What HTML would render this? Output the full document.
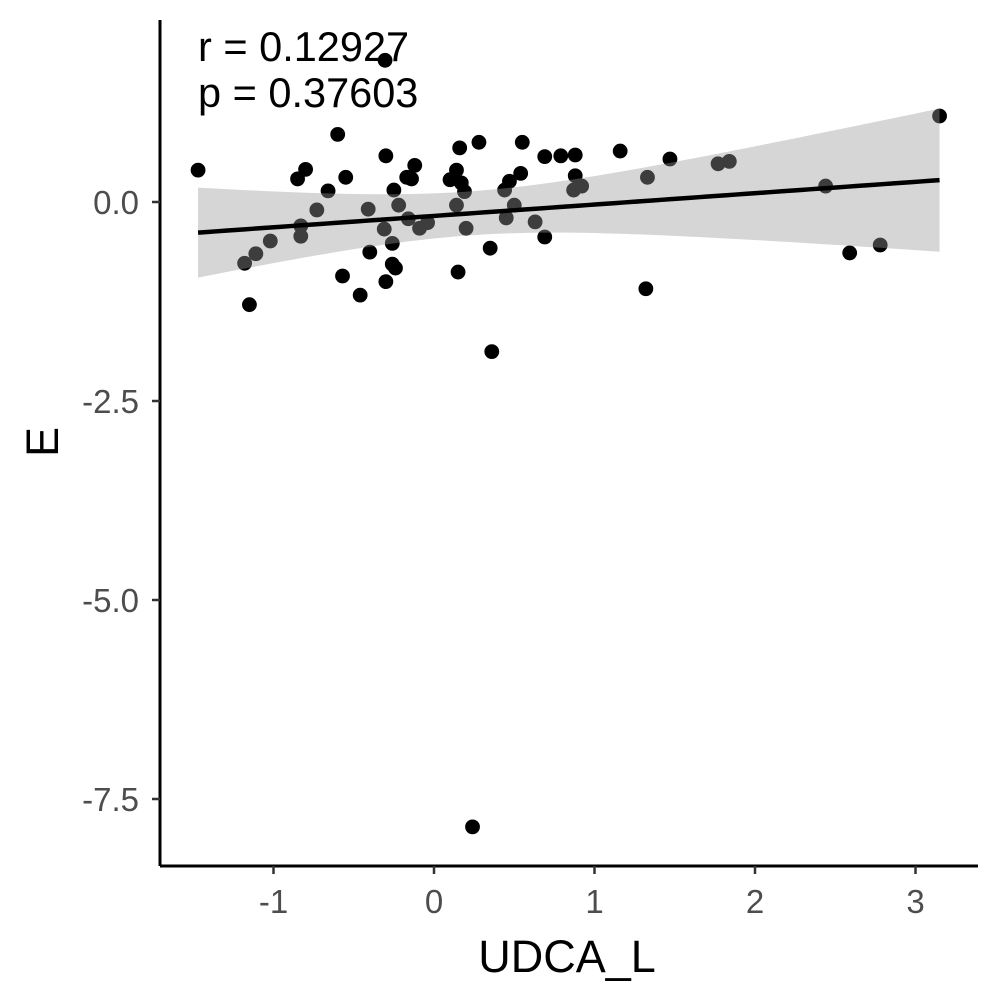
<!DOCTYPE html>
<html><head><meta charset="utf-8"><style>
html,body{margin:0;padding:0;background:#fff;}
svg{display:block;font-family:"Liberation Sans",Arial,sans-serif;}
</style></head><body>
<svg id="chart" width="1000" height="1000" viewBox="0 0 1000 1000">
<g id="points"></g>
<g id="band"></g>
<g id="fit"></g>
<line x1="160" y1="20" x2="160" y2="866" stroke="#000" stroke-width="3"/>
<line x1="160" y1="866" x2="978" y2="866" stroke="#000" stroke-width="3"/>
<g id="xticks"></g>
<g id="yticks"></g>
<text x="567" y="972" font-size="45" text-anchor="middle" fill="#000">UDCA_L</text>
<text transform="translate(58,442) rotate(-90)" font-size="45" text-anchor="middle" fill="#000">E</text>
<text x="198" y="61" font-size="41.5" fill="#000">r = 0.12927</text>
<text x="198" y="107" font-size="41.5" fill="#000">p = 0.37603</text>
</svg>
<script>
const xVals=[-1.47,-0.305,-0.60,3.15,-1.18,-1.15,-1.11,-1.02,-0.85,-0.80,-0.83,-0.83,-0.73,-0.66,-0.55,-0.57,-0.46,-0.41,-0.40,-0.30,-0.31,-0.30,-0.25,-0.26,-0.26,-0.24,-0.22,-0.17,-0.14,-0.12,-0.16,-0.09,-0.04,0.10,0.14,0.16,0.17,0.19,0.14,0.15,0.20,0.28,0.35,0.36,0.24,0.44,0.47,0.45,0.50,0.54,0.55,0.63,0.69,0.69,0.79,0.88,0.88,0.87,0.92,1.16,1.32,1.33,1.47,1.77,1.84,2.44,2.59,2.78];
const yVals=[0.40,1.78,0.85,1.08,-0.77,-1.29,-0.65,-0.49,0.29,0.41,-0.30,-0.43,-0.10,0.14,0.31,-0.93,-1.17,-0.09,-0.63,0.58,-0.34,-1.00,0.15,-0.52,-0.78,-0.83,-0.04,0.31,0.29,0.46,-0.21,-0.33,-0.26,0.28,0.40,0.68,0.24,0.13,-0.04,-0.88,-0.33,0.75,-0.58,-1.88,-7.85,0.15,0.26,-0.20,-0.04,0.36,0.75,-0.25,0.57,-0.44,0.58,0.59,0.33,0.15,0.20,0.64,-1.09,0.31,0.54,0.48,0.51,0.20,-0.64,-0.54];
const xTicks=[-1,0,1,2,3];
const xTickLabels=["-1","0","1","2","3"];
const yTicks=[0,-2.5,-5,-7.5];
const yTickLabels=["0.0","-2.5","-5.0","-7.5"];
const NS="http://www.w3.org/2000/svg";
const sx=v=>434+160.5*v;
const sy=v=>202-79.6*v;
function mk(tag,attrs,parent){const e=document.createElementNS(NS,tag);for(const k in attrs)e.setAttribute(k,attrs[k]);parent.appendChild(e);return e;}
const gP=document.getElementById('points');
xVals.forEach((x,i)=>{const c=mk('circle',{cx:sx(x),cy:sy(yVals[i]),r:7.4,fill:'#000'},gP);

});
const n=xVals.length;const mx=xVals.reduce((a,b)=>a+b)/n,my=yVals.reduce((a,b)=>a+b)/n;
let sxx=0,sxy=0;for(let i=0;i<n;i++){sxx+=(xVals[i]-mx)**2;sxy+=(xVals[i]-mx)*(yVals[i]-my);}
const b=sxy/sxx,a=my-b*mx;let sse=0;for(let i=0;i<n;i++)sse+=(yVals[i]-a-b*xVals[i])**2;
const s=Math.sqrt(sse/(n-2)),t=2.0;
const xmin=Math.min(...xVals),xmax=Math.max(...xVals);
const up=[],lo=[],ln=[];
for(let k=0;k<=80;k++){const x=xmin+(xmax-xmin)*k/80;const f=a+b*x;const se=s*Math.sqrt(1/n+(x-mx)**2/sxx);
up.push(sx(x)+','+sy(f+t*se));lo.unshift(sx(x)+','+sy(f-t*se));ln.push(sx(x)+','+sy(f));}
const bp=mk('polygon',{points:up.concat(lo).join(' '),fill:'#999',"fill-opacity":0.4},document.getElementById('band'));


const fl=mk('polyline',{points:ln.join(' '),fill:'none',stroke:'#000','stroke-width':4.5},document.getElementById('fit'));


const gx=document.getElementById('xticks');
xTicks.forEach((v,i)=>{const l=mk('line',{x1:sx(v),x2:sx(v),y1:866,y2:874,stroke:'#333','stroke-width':2.5},gx);


const tx=mk('text',{x:sx(v),y:913,'font-size':33,'text-anchor':'middle',fill:'#4d4d4d'},gx);tx.textContent=xTickLabels[i];

});
const gy=document.getElementById('yticks');
yTicks.forEach((v,i)=>{const l=mk('line',{x1:152,x2:160,y1:sy(v),y2:sy(v),stroke:'#333','stroke-width':2.5},gy);


const tx=mk('text',{x:139,y:sy(v)+12,'font-size':33,'text-anchor':'end',fill:'#4d4d4d'},gy);tx.textContent=yTickLabels[i];

});
</script>
</body></html>
